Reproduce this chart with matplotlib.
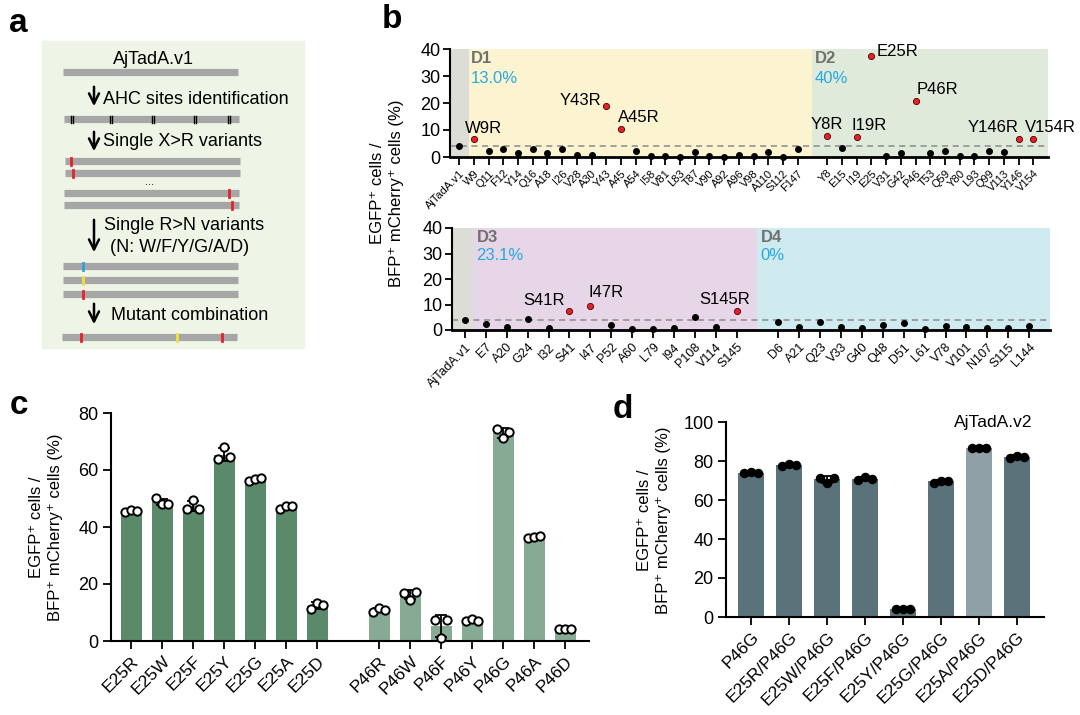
import numpy as np
import matplotlib.pyplot as plt
from matplotlib.patches import Rectangle
from matplotlib.transforms import blended_transform_factory

plt.rcParams['font.family'] = ['Liberation Sans', 'DejaVu Sans']
plt.rcParams['axes.linewidth'] = 1.5

# ---- panel b data: X>R scan, % EGFP+ cells ----
wt_name = 'AjTadA.v1'
wt_top = 4.0
wt_bottom = 3.9
threshold = 4.0

d1_sites = ['W9', 'Q11', 'F12', 'Y14', 'Q16', 'A18', 'I26', 'V28', 'A30', 'Y43', 'A45', 'A54',
            'I58', 'V81', 'L83', 'T87', 'V90', 'A92', 'A96', 'V98', 'A110', 'S112', 'F147']
d1_vals = [6.5, 2.2, 3.1, 1.4, 2.9, 1.4, 2.9, 0.9, 0.6, 18.9, 10.2, 2.4,
           0.5, 0.2, 0.1, 1.9, 0.4, 0.0, 0.6, 0.2, 2.0, 0.0, 2.9]
d2_sites = ['Y8', 'E15', 'I19', 'E25', 'V31', 'G42', 'P46', 'T53', 'Q59', 'Y80', 'L93', 'Q99',
            'V113', 'Y146', 'V154']
d2_vals = [7.8, 3.2, 7.5, 37.3, 0.2, 1.4, 20.7, 1.6, 2.1, 0.2, 0.2, 2.4, 1.9, 6.8, 6.8]
d3_sites = ['E7', 'A20', 'G24', 'I32', 'S41', 'I47', 'P52', 'A60', 'L79', 'I94', 'P108', 'V114', 'S145']
d3_vals = [2.2, 1.0, 4.2, 0.7, 7.5, 9.3, 2.0, 0.3, 0.3, 0.7, 5.0, 1.0, 7.3]
d4_sites = ['D6', 'A21', 'Q23', 'V33', 'G40', 'Q48', 'D51', 'L61', 'V78', 'V101', 'N107', 'S115', 'L144']
d4_vals = [3.0, 1.2, 3.3, 1.2, 0.8, 2.1, 2.6, 0.3, 1.7, 1.0, 0.7, 0.7, 1.4]

hits = ['W9', 'Y43', 'A45', 'Y8', 'I19', 'E25', 'P46', 'Y146', 'V154', 'S41', 'I47', 'S145']
domain_names = ['D1', 'D2', 'D3', 'D4']
domain_pct = ['13.0%', '40%', '23.1%', '0%']

# ---- panel c data ----
c_labels = ['E25R', 'E25W', 'E25F', 'E25Y', 'E25G', 'E25A', 'E25D',
            'P46R', 'P46W', 'P46F', 'P46Y', 'P46G', 'P46A', 'P46D']
c_reps = [[45.2, 46.1, 45.5], [50.1, 48.1, 48.1], [46.4, 49.3, 46.4], [63.7, 68.1, 64.5],
          [56.2, 57.0, 57.2], [46.4, 47.2, 47.3], [11.2, 13.3, 12.8],
          [10.3, 11.5, 11.0], [17.0, 14.5, 17.2], [7.5, 0.9, 7.5], [7.0, 7.6, 7.0],
          [74.5, 71.3, 73.2], [36.1, 36.6, 36.8], [4.2, 4.2, 4.2]]

# ---- panel d data ----
d_labels = ['P46G', 'E25R/P46G', 'E25W/P46G', 'E25F/P46G', 'E25Y/P46G',
            'E25G/P46G', 'E25A/P46G', 'E25D/P46G']
d_reps = [[73.8, 74.6, 73.9], [77.2, 78.4, 77.7], [71.5, 68.7, 71.5], [70.2, 71.7, 71.0],
          [4.2, 4.3, 4.2], [68.8, 70.0, 70.0], [86.8, 86.9, 86.8], [81.3, 82.8, 82.3]]

ylab = 'EGFP\u207a cells /\nBFP\u207a mCherry\u207a cells (%)'

fig = plt.figure(figsize=(10.8, 7.15), dpi=100)

# overlay in pixel coords for schematic + labels
ov = fig.add_axes([0, 0, 1, 1])
ov.set_xlim(0, 1080)
ov.set_ylim(715, 0)
ov.axis('off')

# ---------------- panel a (schematic) ----------------
ov.add_patch(Rectangle((42, 41), 262, 307, color='#eef4e6', zorder=0))
grey = '#a6a6a6'
rows = [
    (72, 63, 238, []),
    (119, 64, 239, [(72, 'ahc'), (111, 'ahc'), (153, 'ahc'), (195, 'ahc'), (229, 'ahc')]),
    (161, 65, 240, [(71, '#e8202a')]),
    (173, 65, 240, [(73, '#e8202a')]),
    (193, 64, 239, [(229, '#e8202a')]),
    (205, 64, 239, [(232, '#e8202a')]),
    (266, 63, 238, [(83, '#29a3e0')]),
    (280, 63, 238, [(83, '#f1e23a')]),
    (294, 63, 238, [(83, '#e8202a')]),
    (337, 62, 237, [(81, '#e8202a'), (177, '#f1e23a'), (222, '#e8202a')]),
]
for y, x0, x1, marks in rows:
    ov.plot([x0, x1], [y, y], color=grey, lw=5.2, solid_capstyle='butt', zorder=1)
    for mx, col in marks:
        if col == 'ahc':
            for dx in (-1.3, 1.3):
                ov.plot([mx + dx, mx + dx], [y - 3.5, y + 3.5], color='k', lw=1, zorder=2)
        else:
            ov.plot([mx, mx], [y - 3.5, y + 3.5], color=col, lw=2, zorder=2)

ov.text(153, 60, 'AjTadA.v1', fontsize=13, ha='center', va='center')
ov.text(150, 182, '...', fontsize=8, ha='center', va='center')
steps = [(84, 109, 'AHC sites identification', 103, 99),
         (129, 154, 'Single X>R variants', 103, 142),
         (217, 255, 'Single R>N variants', 104, 226),
         (301, 327, 'Mutant combination', 111, 315)]
for y0, y1, txt, tx, ty in steps:
    ov.annotate('', xy=(94, y1), xytext=(94, y0),
                arrowprops=dict(arrowstyle='->', lw=1.8, color='k', mutation_scale=18))
    ov.text(tx, ty, txt, fontsize=13, ha='left', va='center')
ov.text(110, 247, '(N: W/F/Y/G/A/D)', fontsize=13, ha='left', va='center')

# panel letters and shared y labels
for letter, x, y in [('a', 18, 23), ('b', 392, 20), ('c', 19, 406), ('d', 623, 409)]:
    ov.text(x, y, letter, fontsize=24, fontweight='bold', ha='center', va='center')
ov.text(387, 193, ylab, fontsize=12, rotation=90, ha='center', va='center',
        multialignment='center', linespacing=1.3)
ov.text(46, 527, ylab, fontsize=12, rotation=90, ha='center', va='center',
        multialignment='center', linespacing=1.3)
ov.text(654, 520, ylab, fontsize=12, rotation=90, ha='center', va='center',
        multialignment='center', linespacing=1.3)

# ---------------- panel b ----------------
label_style = {
    'W9': (-9, 3, 'left'), 'Y43': (-5, -2, 'right'), 'A45': (-3, 4, 'left'),
    'E25': (5, -3, 'left'), 'P46': (1, 4, 'left'), 'Y8': (0, 4, 'center'),
    'I19': (-5, 4, 'left'), 'Y146': (0, 4, 'right'), 'V154': (-8, 4, 'left'),
    'S41': (-5, 3, 'right'), 'I47': (-2, 6, 'left'), 'S145': (-12, 4, 'center'),
}


def domain_panel(rect, wt, groups, names, pcts, colors, grey_end, right, xfs):
    ax = fig.add_axes(rect)
    pos = [0]
    labels = [wt_name]
    vals = [wt]
    edges = []
    p = 1
    for sites, v in groups:
        edges.append(p - 1 + grey_end if p == 1 else p - 1)
        for s, val in zip(sites, v):
            pos.append(p)
            labels.append(s)
            vals.append(val)
            p += 1
        p += 1
    edges.append(right)
    left = -0.62
    ax.set_xlim(left, right)
    ax.set_ylim(0, 40)
    ax.axvspan(left, grey_end, color='#dcddd6', lw=0, zorder=0)
    for i in range(len(groups)):
        ax.axvspan(edges[i], edges[i + 1], color=colors[i], lw=0, zorder=0)
    trans = blended_transform_factory(ax.transData, ax.transAxes)
    for i in range(len(groups)):
        ax.text(edges[i] + 0.15, 0.985, names[i], transform=trans, fontsize=12,
                fontweight='bold', color='#707070', va='top', ha='left')
        ax.text(edges[i] + 0.15, 0.80, pcts[i], transform=trans, fontsize=12,
                color='#27a9e1', va='top', ha='left')
    ax.axhline(threshold, color='#8a8a8a', ls=(0, (4, 3)), lw=1.1, zorder=1)
    pos = np.array(pos)
    vals = np.array(vals)
    is_hit = np.array([l in hits for l in labels])
    ax.scatter(pos[~is_hit], vals[~is_hit], s=16, c='k', zorder=3, clip_on=False)
    ax.scatter(pos[is_hit], vals[is_hit], s=20, c='#e8202a', edgecolors='#4a0000',
               linewidths=0.6, zorder=3, clip_on=False)
    for x, v, l in zip(pos[is_hit], vals[is_hit], np.array(labels)[is_hit]):
        dx, dy, ha = label_style[l]
        ax.annotate(l + 'R', (x, v), xytext=(dx, dy), textcoords='offset pixels',
                    ha=ha, va='bottom', fontsize=12, annotation_clip=False)
    ax.set_xticks(pos)
    ax.set_xticklabels(labels, rotation=45, ha='right', rotation_mode='anchor', fontsize=xfs)
    ax.set_yticks([0, 10, 20, 30, 40])
    ax.tick_params(axis='x', length=6, width=1.3, pad=2)
    ax.tick_params(axis='y', length=5, width=1.3, labelsize=13, pad=2)
    ax.spines['top'].set_visible(False)
    ax.spines['right'].set_visible(False)
    ax.spines['bottom'].set_linewidth(2)
    return ax


domain_panel([450 / 1080, 1 - 157 / 715, 598 / 1080, 108 / 715], wt_top,
             [(d1_sites, d1_vals), (d2_sites, d2_vals)], domain_names[:2], domain_pct[:2],
             ['#fcf3d0', '#dfeadb'], 0.65, 40.0, 8)
domain_panel([452 / 1080, 1 - 330 / 715, 598 / 1080, 102 / 715], wt_bottom,
             [(d3_sites, d3_vals), (d4_sites, d4_vals)], domain_names[2:], domain_pct[2:],
             ['#e7d6e7', '#d0ebf0'], 0.4, 28.0, 9)


# ---------------- panels c and d ----------------
def bar_panel(rect, labels, reps, colors, pos, xlim, ylim, yticks, open_pts, xfs):
    ax = fig.add_axes(rect)
    reps = np.array(reps)
    means = reps.mean(axis=1)
    sd = reps.std(axis=1, ddof=1)
    ax.bar(pos, means, width=0.67, color=colors, zorder=1)
    ax.errorbar(pos, means, yerr=sd, fmt='none', ecolor='k', elinewidth=1.3,
                capsize=4, capthick=1.3, zorder=2)
    offs = np.array([-0.19, 0.0, 0.19])
    for x, r in zip(pos, reps):
        if open_pts:
            ax.scatter(x + offs, r, s=36, facecolors='white', edgecolors='k',
                       linewidths=1.4, zorder=3, clip_on=False)
        else:
            ax.scatter(x + offs, r, s=34, c='k', zorder=3, clip_on=False)
    ax.set_xlim(*xlim)
    ax.set_ylim(*ylim)
    ax.set_yticks(yticks)
    ax.set_xticks(pos)
    ax.set_xticklabels(labels, rotation=45, ha='right', rotation_mode='anchor', fontsize=xfs)
    ax.tick_params(axis='both', length=6, width=1.3, labelsize=13, pad=3)
    ax.tick_params(axis='x', labelsize=xfs)
    ax.spines['top'].set_visible(False)
    ax.spines['right'].set_visible(False)
    return ax


c_pos = np.array(list(range(7)) + list(range(8, 15)))
c_colors = ['#5b8a6a'] * 7 + ['#87aa94'] * 7
bar_panel([111 / 1080, 1 - 641 / 715, 478 / 1080, 228 / 715], c_labels, c_reps, c_colors,
          c_pos, (-0.65, 14.77), (0, 80), [0, 20, 40, 60, 80], True, 12.5)

d_pos = np.arange(len(d_labels))
d_colors = ['#5a727a'] * 6 + ['#8fa1a7'] + ['#5a727a']
axd = bar_panel([726 / 1080, 1 - 617 / 715, 318 / 1080, 195 / 715], d_labels, d_reps, d_colors,
                d_pos, (-0.66, 7.71), (0, 100), [0, 20, 40, 60, 80, 100], False, 12.5)
axd.text(0.84, 0.995, 'AjTadA.v2', transform=axd.transAxes, fontsize=12.5,
         ha='center', va='center')

fig.savefig('out.png', dpi=100)
